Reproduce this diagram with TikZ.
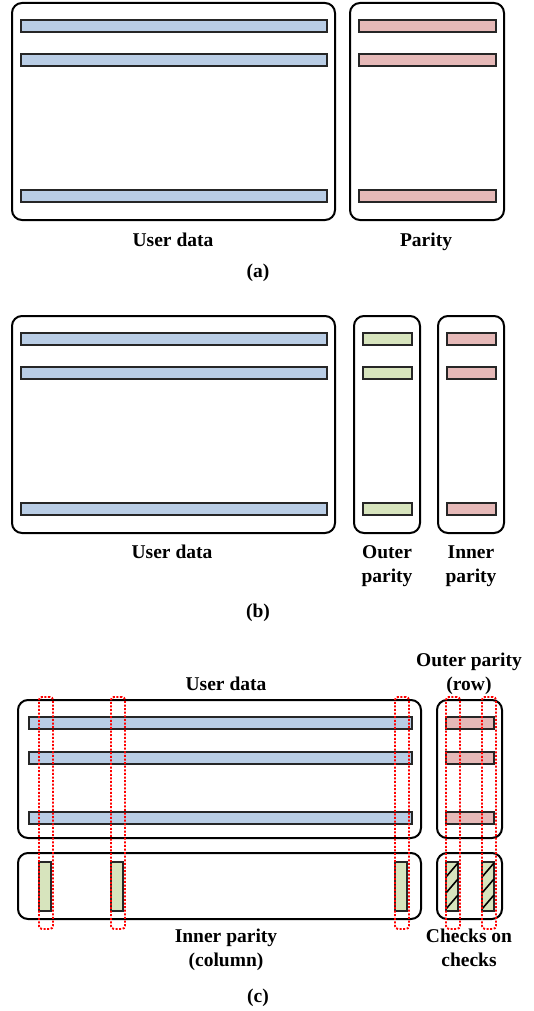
\documentclass[tikz,border=0pt]{standalone}
\usepackage{fontspec}
\setmainfont{Liberation Serif}
\definecolor{datablue}{HTML}{B9CDE5}
\definecolor{paritypink}{HTML}{E6B9B8}
\definecolor{paritygreen}{HTML}{D7E4BD}

\begin{document}
\begin{tikzpicture}[
  x=1pt, y=-1pt,
  font=\fontsize{19.5}{24}\selectfont\bfseries,
  frame/.style={
    rectangle, draw=black, line width=2pt, rounded corners=10pt,
    fill=white, inner sep=0pt, outer sep=0pt, anchor=north west
  },
  bar/.style={
    rectangle, draw=black!85, line width=1.1pt,
    inner sep=0pt, outer sep=0pt, anchor=north west
  },
  databar/.style={bar, fill=datablue},
  pinkbar/.style={bar, fill=paritypink},
  greenbar/.style={bar, fill=paritygreen},
  colgroup/.style={
    rectangle, draw=red, line width=1.9pt, dash pattern=on 2pt off 1.6pt,
    rounded corners=3pt, inner sep=0pt, anchor=north west,
    minimum width=14pt, minimum height=232pt
  },
  hatch/.style={draw=black, line width=1.6pt},
  lbl/.style={align=center, anchor=base},
]
\useasboundingbox (0,0) rectangle (533,1011);

% (a) user data plus one parity block
\node[frame, minimum width=323pt, minimum height=217pt] (udA) at (12,3) {};
\node[databar, minimum width=306pt, minimum height=12pt] (udA1) at (21,20) {};
\node[databar, minimum width=306pt, minimum height=12pt] (udA2) at (21,54) {};
\node[databar, minimum width=306pt, minimum height=12pt] (udA3) at (21,190) {};

\node[frame, minimum width=154pt, minimum height=217pt] (parA) at (350,3) {};
\node[pinkbar, minimum width=137pt, minimum height=12pt] (parA1) at (359,20) {};
\node[pinkbar, minimum width=137pt, minimum height=12pt] (parA2) at (359,54) {};
\node[pinkbar, minimum width=137pt, minimum height=12pt] (parA3) at (359,190) {};

\node[lbl] (udAlbl) at (173,246) {User data};
\node[lbl] (parAlbl) at (426,246) {Parity};
\node[lbl] (capA) at (258,277) {(a)};

% (b) outer and inner parity side by side
\node[frame, minimum width=323pt, minimum height=217pt] (udB) at (12,316) {};
\node[databar, minimum width=306pt, minimum height=12pt] (udB1) at (21,333) {};
\node[databar, minimum width=306pt, minimum height=12pt] (udB2) at (21,367) {};
\node[databar, minimum width=306pt, minimum height=12pt] (udB3) at (21,503) {};

\node[frame, minimum width=66pt, minimum height=217pt] (outB) at (354,316) {};
\node[greenbar, minimum width=49pt, minimum height=12pt] (outB1) at (363,333) {};
\node[greenbar, minimum width=49pt, minimum height=12pt] (outB2) at (363,367) {};
\node[greenbar, minimum width=49pt, minimum height=12pt] (outB3) at (363,503) {};

\node[frame, minimum width=66pt, minimum height=217pt] (inB) at (438,316) {};
\node[pinkbar, minimum width=49pt, minimum height=12pt] (inB1) at (447,333) {};
\node[pinkbar, minimum width=49pt, minimum height=12pt] (inB2) at (447,367) {};
\node[pinkbar, minimum width=49pt, minimum height=12pt] (inB3) at (447,503) {};

% two-line labels sit on the baseline of their last line
\node[lbl] (udBlbl) at (172,558) {User data};
\node[lbl] (outBlbl) at (387,582) {Outer\\parity};
\node[lbl] (inBlbl) at (471,582) {Inner\\parity};
\node[lbl] (capB) at (258,617) {(b)};

% (c) product code: rows, columns and checks on checks
\node[frame, minimum width=403pt, minimum height=138pt] (udC) at (18,700) {};
\node[databar, minimum width=383pt, minimum height=12pt] (udC1) at (29,717) {};
\node[databar, minimum width=383pt, minimum height=12pt] (udC2) at (29,752) {};
\node[databar, minimum width=383pt, minimum height=12pt] (udC3) at (29,812) {};

\node[frame, minimum width=65pt, minimum height=138pt] (outC) at (437,700) {};
\node[pinkbar, minimum width=48pt, minimum height=12pt] (outC1) at (446,717) {};
\node[pinkbar, minimum width=48pt, minimum height=12pt] (outC2) at (446,752) {};
\node[pinkbar, minimum width=48pt, minimum height=12pt] (outC3) at (446,812) {};

\node[frame, minimum width=403pt, minimum height=66pt] (inC) at (18,853) {};
\node[greenbar, minimum width=12pt, minimum height=49pt] (inC1) at (39,862) {};
\node[greenbar, minimum width=12pt, minimum height=49pt] (inC2) at (111,862) {};
\node[greenbar, minimum width=12pt, minimum height=49pt] (inC3) at (395,862) {};

\node[frame, minimum width=65pt, minimum height=66pt] (cocC) at (437,853) {};
\node[greenbar, minimum width=12pt, minimum height=49pt] (cocC1) at (446,862) {};
\node[greenbar, minimum width=12pt, minimum height=49pt] (cocC2) at (482,862) {};

% diagonal hatching on the checks-on-checks cells
\draw[hatch] (cocC1.south west) ++(0,-2) -- ++(12,-14);
\draw[hatch] (cocC1.south west) ++(0,-18) -- ++(12,-14);
\draw[hatch] (cocC1.south west) ++(0,-34) -- ++(12,-14);
\draw[hatch] (cocC2.south west) ++(0,-2) -- ++(12,-14);
\draw[hatch] (cocC2.south west) ++(0,-18) -- ++(12,-14);
\draw[hatch] (cocC2.south west) ++(0,-34) -- ++(12,-14);

% dotted column groups on top
\node[colgroup] (grp1) at (38,696) {};
\node[colgroup] (grp2) at (110,696) {};
\node[colgroup] (grp3) at (394,696) {};
\node[colgroup] (grp4) at (445,696) {};
\node[colgroup] (grp5) at (481,696) {};

\node[lbl] (udClbl) at (226,690) {User data};
\node[lbl] (outClbl) at (469,690) {Outer parity\\(row)};
\node[lbl] (inClbl) at (226,966) {Inner parity\\(column)};
\node[lbl] (cocClbl) at (469,966) {Checks on\\checks};
\node[lbl] (capC) at (258,1002) {(c)};

\end{tikzpicture}
\end{document}
